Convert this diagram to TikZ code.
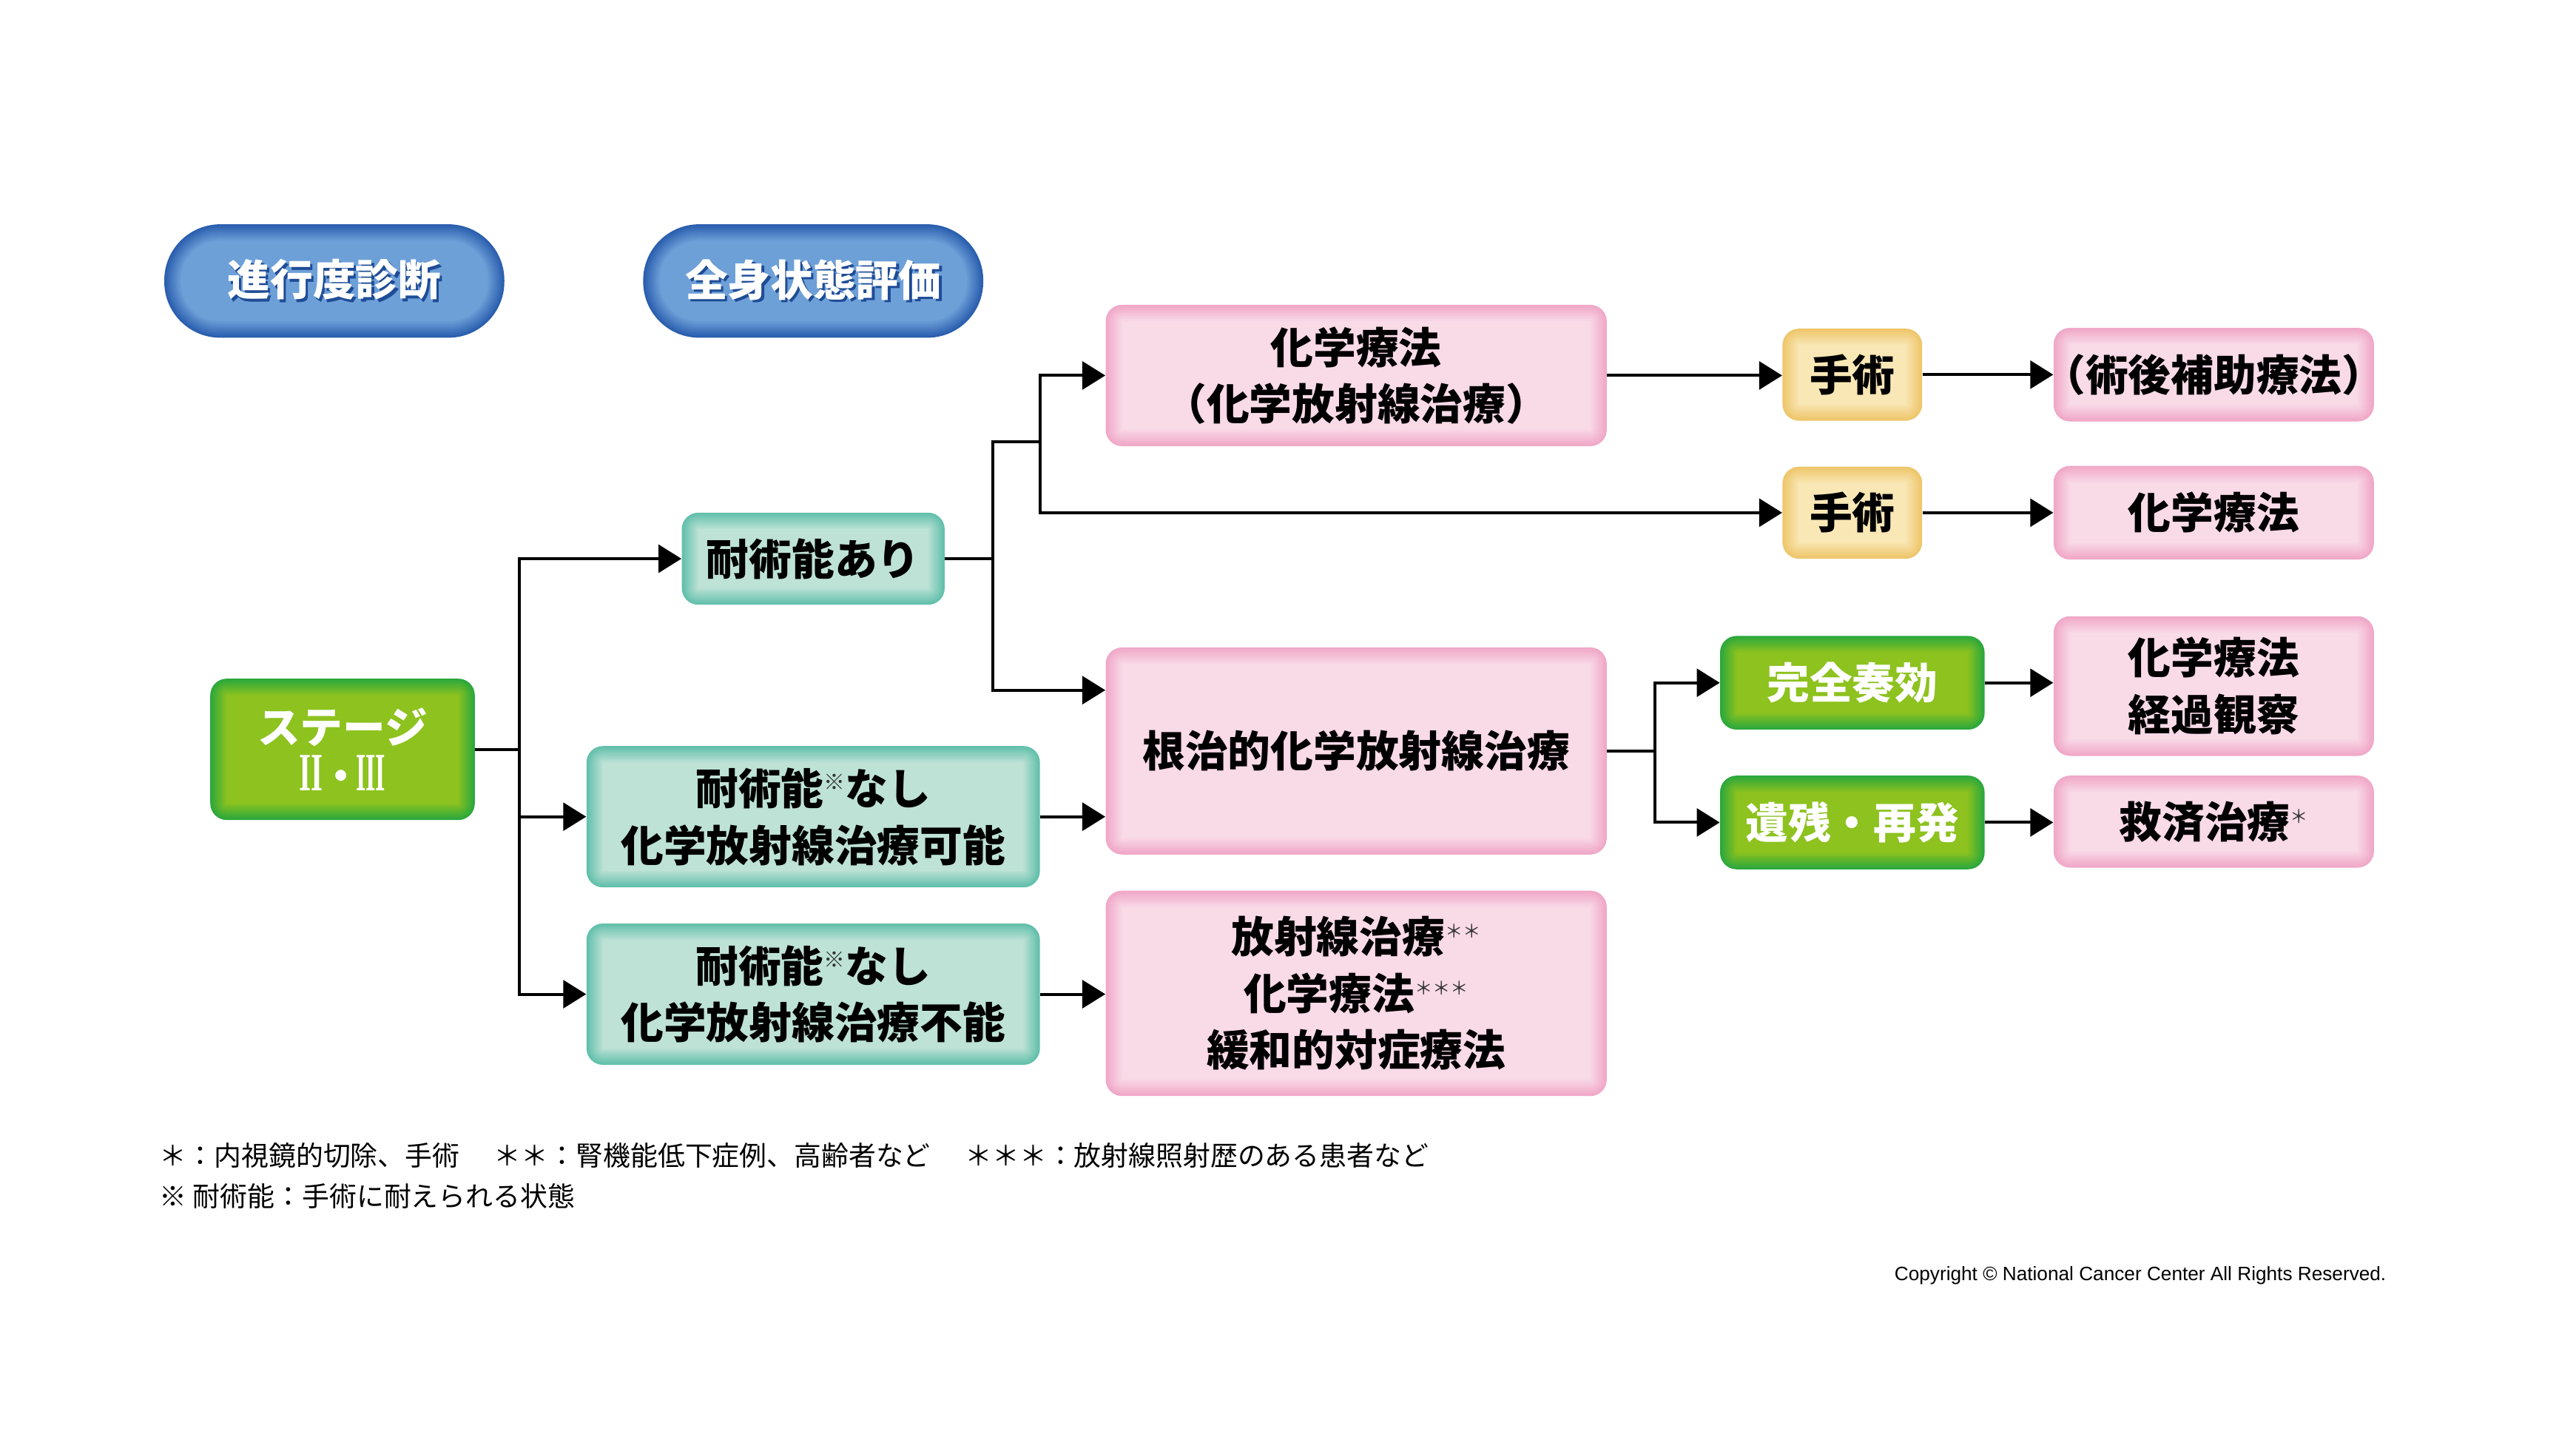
\documentclass[tikz,border=0pt]{standalone}
\usepackage{graphicx}
\usepackage{fontspec}
\setmainfont{Noto Sans CJK JP}
\newfontfamily\latinfont{Liberation Sans}
\newfontfamily\serifnum{Liberation Serif}
\usetikzlibrary{arrows.meta}

\definecolor{blueout}{HTML}{2A5EAE}
\definecolor{bluein}{HTML}{6EA0D8}
\definecolor{blueshade}{HTML}{1E4C96}
\definecolor{greenout}{HTML}{2CA83C}
\definecolor{greenin}{HTML}{8DC21F}
\definecolor{tealout}{HTML}{62C0AB}
\definecolor{tealin}{HTML}{BEE2D6}
\definecolor{pinkout}{HTML}{F0A8C8}
\definecolor{pinkin}{HTML}{F9DAE7}
\definecolor{yelout}{HTML}{EEC66A}
\definecolor{yelin}{HTML}{F9E7B6}

\newcommand{\mk}[2][12pt]{\raisebox{9pt}{\fontsize{#1}{#1}\mdseries\selectfont\color{black!80}#2}}
\newcommand{\numII}{\resizebox{14.5pt}{21.5pt}{\serifnum\bfseries II}}
\newcommand{\numIII}{\resizebox{18pt}{21.5pt}{\serifnum\bfseries III}}
\newcommand{\shade}[1]{\leavevmode\rlap{\color{blueshade}\kern1.5pt\raisebox{-1.5pt}{#1}}#1}

\tikzset{
    glow/.style n args={3}{fill=#2, rounded corners=#3pt, path picture={
        \foreach \k in {1,...,10} {
            \pgfmathsetmacro{\mixpct}{\k*10}
            \pgfmathsetmacro{\rad}{max(#3-\k,0.1)}
            \fill[#1!\mixpct!#2, rounded corners=\rad pt]
                ([xshift=\k pt,yshift=\k pt]path picture bounding box.south west) rectangle
                ([xshift=-\k pt,yshift=-\k pt]path picture bounding box.north east);
        }}},
    boxfont/.style={font=\fontsize{26pt}{34.5pt}\bfseries\selectfont},
    pill/.style={glow={bluein}{blueout}{34}, boxfont, text=white, minimum width=207pt, minimum height=69pt},
    greenbox/.style={glow={greenin}{greenout}{10}, boxfont, text=white},
    tealbox/.style={glow={tealin}{tealout}{10}, boxfont},
    pinkbox/.style={glow={pinkin}{pinkout}{10}, boxfont},
    yelbox/.style={glow={yelin}{yelout}{10}, boxfont},
    line/.style={line width=1.8pt},
    arr/.style={line, -{Triangle[length=14pt,width=17pt]}},
}

\begin{document}
\begin{tikzpicture}[x=1pt, y=-1pt, every node/.style={inner sep=0pt, align=center}]
    \fill[white] (0,0) rectangle (1568,876.3);
    \useasboundingbox (0,0) rectangle (1568,876.3);

    % headers
    \node[pill] (diag) at (203.5,171) {\shade{進行度診断}};
    \node[pill] (eval) at (495,171) {\shade{全身状態評価}};

    % stage and operability
    \node[greenbox, minimum width=161pt, minimum height=86pt, font=\fontsize{26pt}{29pt}\bfseries\selectfont] (stage) at (208.5,456)
        {ステージ\\{\fontsize{24pt}{29pt}\selectfont\numII\kern-1pt・\kern-3pt\numIII}};
    \node[tealbox, minimum width=160pt, minimum height=56pt] (taiari) at (495,340) {耐術能あり};
    \node[tealbox, minimum width=276pt, minimum height=86pt] (kanou) at (495,497) {耐術能\mk[13pt]{※}なし\\化学放射線治療可能};
    \node[tealbox, minimum width=276pt, minimum height=86pt] (funou) at (495,605) {耐術能\mk[13pt]{※}なし\\化学放射線治療不能};

    % treatments
    \node[pinkbox, minimum width=305pt, minimum height=86pt] (chemo) at (825.5,228.5) {化学療法\\（化学放射線治療）};
    \node[pinkbox, minimum width=305pt, minimum height=126pt] (crt) at (825.5,457) {根治的化学放射線治療};
    \node[pinkbox, minimum width=305pt, minimum height=125pt] (palli) at (825.5,604.5)
        {放射線治療\mk[11pt]{＊＊}\\化学療法\mk[11pt]{＊＊＊}\\緩和的対症療法};

    \node[yelbox, minimum width=85pt, minimum height=56pt] (ope1) at (1127.5,228) {手術};
    \node[yelbox, minimum width=85pt, minimum height=56pt] (ope2) at (1127.5,312) {手術};
    \node[greenbox, minimum width=161pt, minimum height=57pt] (cr) at (1127.5,415.5) {完全奏効};
    \node[greenbox, minimum width=161pt, minimum height=57pt] (rr) at (1127.5,500.5) {遺残・再発};

    \node[pinkbox, minimum width=195pt, minimum height=57pt] (adj) at (1347.5,228) {\kern-7pt（術後補助療法）\kern-7pt};
    \node[pinkbox, minimum width=195pt, minimum height=57pt] (chemo2) at (1347.5,312) {化学療法};
    \node[pinkbox, minimum width=195pt, minimum height=85pt] (obs) at (1347.5,417.5) {化学療法\\経過観察};
    \node[pinkbox, minimum width=195pt, minimum height=56pt] (salv) at (1347.5,500) {救済治療\mk[11pt]{＊}};

    % connectors
    \coordinate (j1) at ([xshift=27pt]stage.east);
    \draw[line] (stage.east) -- (j1);
    \foreach \t in {taiari,kanou,funou} {
        \draw[arr] (j1) |- (\t.west);
    }
    \coordinate (j2) at ([xshift=29pt]taiari.east);
    \coordinate (j3) at ([xshift=29pt,yshift=71pt]j2);
    \draw[line] (taiari.east) -- (j2) |- (j3);
    \draw[arr] (j3) |- (chemo.west);
    \draw[arr] (j3) |- (ope2.west);
    \draw[arr] (j2) |- ([yshift=37pt]crt.west);
    \draw[arr] (kanou.east) -- (kanou.east -| crt.west);
    \draw[arr] (funou.east) -- (funou.east -| palli.west);
    \coordinate (j4) at ([xshift=29pt]crt.east);
    \draw[line] (crt.east) -- (j4);
    \foreach \t in {cr,rr} {
        \draw[arr] (j4) |- (\t.west);
    }
    \foreach \a/\b in {chemo/ope1,ope1/adj,ope2/chemo2,cr/obs,rr/salv} {
        \draw[arr] (\a.east) -- (\a.east -| \b.west);
    }

    % notes
    \node[anchor=west, align=left, font=\fontsize{16.6pt}{25pt}\selectfont] (notes) at (97,715.5)
        {＊：内視鏡的切除、手術\hspace{21pt}＊＊：腎機能低下症例、高齢者など\hspace{21pt}＊＊＊：放射線照射歴のある患者など\\※ 耐術能：手術に耐えられる状態};
    \node[anchor=west, font=\latinfont\fontsize{11.8pt}{14pt}\selectfont] (copy) at (1153,776)
        {Copyright © National Cancer Center All Rights Reserved.};
\end{tikzpicture}
\end{document}
